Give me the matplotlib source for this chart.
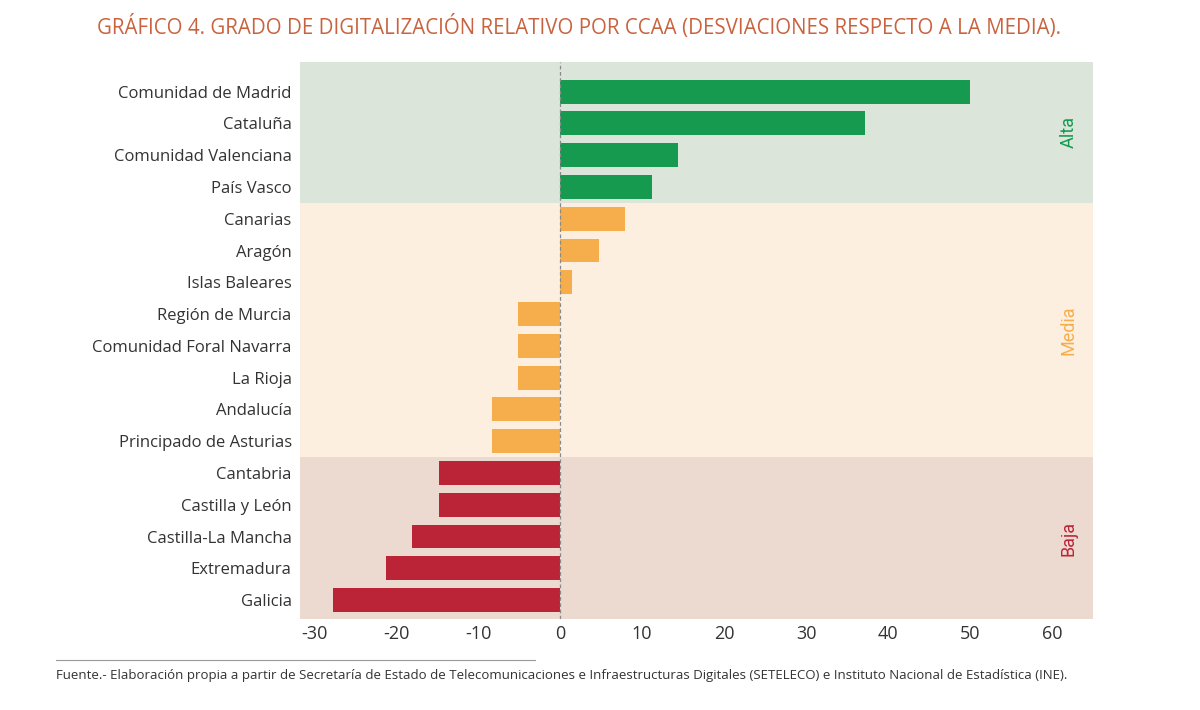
import matplotlib
matplotlib.use("Agg")
import matplotlib.pyplot as plt
import matplotlib.transforms as mtransforms
import numpy as np

regions = ["Comunidad de Madrid", "Cataluña", "Comunidad Valenciana", "País Vasco",
           "Canarias", "Aragón", "Islas Baleares", "Región de Murcia",
           "Comunidad Foral Navarra", "La Rioja", "Andalucía", "Principado de Asturias",
           "Cantabria", "Castilla y León", "Castilla-La Mancha", "Extremadura", "Galicia"]
desviacion = [50.0, 37.2, 14.4, 11.2,
              7.9, 4.8, 1.5, -5.1,
              -5.1, -5.1, -8.3, -8.3,
              -14.8, -14.8, -18.0, -21.2, -27.7]
grupo = ["Alta"] * 4 + ["Media"] * 8 + ["Baja"] * 5
grupos = ["Alta", "Media", "Baja"]

bar_col = {"Alta": "#159a50", "Media": "#f6ae4c", "Baja": "#bb2437"}
bg_col = {"Alta": "#dbe5da", "Media": "#fdefdf", "Baja": "#ecd9d0"}

plt.rcParams['font.family'] = ['Open Sans', 'DejaVu Sans']
plt.rcParams['axes.unicode_minus'] = False

fig = plt.figure(figsize=(12, 7.1), dpi=100)
ax = fig.add_axes([0.25, 0.128, 0.661, 0.785])

y = np.arange(len(regions))
y_top, y_bot = -0.94, len(regions) - 0.4
ax.set_ylim(y_bot, y_top)
ax.set_xlim(-31.7, 65)

trans = mtransforms.blended_transform_factory(ax.transAxes, ax.transData)
for g in grupos:
    idx = [i for i, gg in enumerate(grupo) if gg == g]
    lo = min(idx) - 0.5 if min(idx) > 0 else y_top
    hi = max(idx) + 0.5 if max(idx) < len(regions) - 1 else y_bot
    ax.axhspan(lo, hi, color=bg_col[g], lw=0, zorder=0)
    ax.text(1.0 - 0.02, (lo + hi) / 2, g, transform=trans, rotation=90,
            ha="right", va="center", color=bar_col[g], fontsize=13,
            family=['Roboto', 'DejaVu Sans'])

ax.barh(y, desviacion, height=0.75, color=[bar_col[g] for g in grupo], zorder=2)
ax.axvline(0, color="#8a8a8a", lw=0.9, ls=(0, (3, 2)), zorder=3)

ax.set_yticks(y)
ax.set_yticklabels(regions, fontsize=12, color="#333333")
ax.set_xticks(np.arange(-30, 61, 10))
ax.tick_params(axis="x", labelsize=13, colors="#333333", length=0, pad=4)
ax.tick_params(axis="y", length=0, pad=6)
for s in ax.spines.values():
    s.set_visible(False)

fig.text(0.4825, 0.962, "GRÁFICO 4. GRADO DE DIGITALIZACIÓN RELATIVO POR CCAA (DESVIACIONES RESPECTO A LA MEDIA).",
         ha="center", va="center", color="#c9633f", fontsize=14.8)

fig.add_artist(plt.Line2D([0.047, 0.446], [0.071, 0.071], color="#999999", lw=0.8))
fig.text(0.047, 0.049, "Fuente.- Elaboración propia a partir de Secretaría de Estado de Telecomunicaciones e Infraestructuras Digitales (SETELECO) e Instituto Nacional de Estadística (INE).",
         ha="left", va="center", color="#333333", fontsize=9.5)

fig.savefig("out.png", dpi=100, facecolor="white")
